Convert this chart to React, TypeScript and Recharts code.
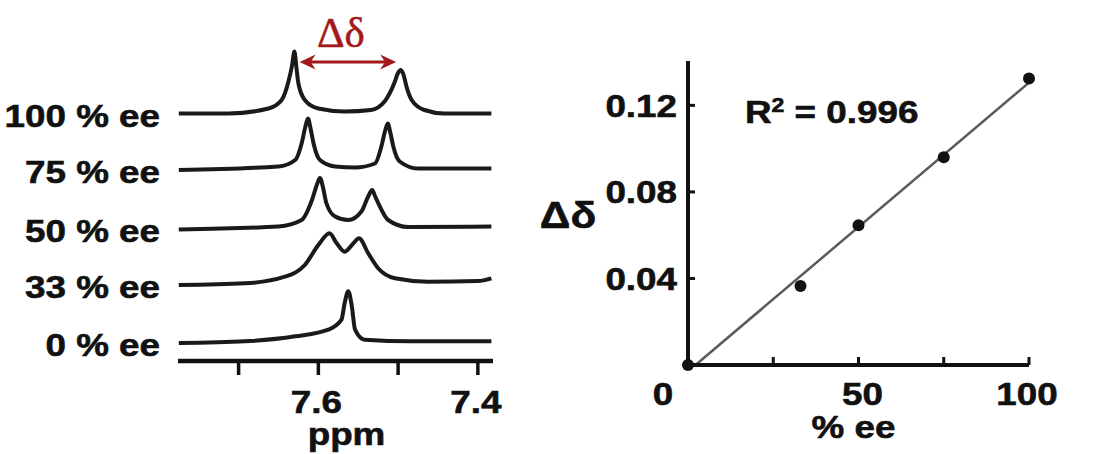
import React from 'react';
import {
    LineChart,
    Line,
    XAxis,
    YAxis,
    ComposedChart,
    Scatter,
    ReferenceLine,
    Label,
} from 'recharts';

// --- spectra: chemical shift (ppm) and signal height above each trace's baseline ---
const shift100 = [7.775, 7.7125, 7.6625, 7.646, 7.6375, 7.633, 7.63, 7.6275, 7.625, 7.617, 7.6, 7.567, 7.534, 7.517, 7.504, 7.5004, 7.4966, 7.4929, 7.49, 7.483, 7.467, 7.442, 7.383];
const signal100 = [0, 0, 5, 13.5, 32, 48, 62, 46, 30, 13.5, 5, 2, 3.5, 12, 32, 40, 43.5, 38, 28.5, 13.5, 3.5, 0, 0];

const shift75 = [7.775, 7.65, 7.629, 7.621, 7.6165, 7.613, 7.6095, 7.606, 7.598, 7.579, 7.554, 7.529, 7.521, 7.5165, 7.513, 7.5095, 7.506, 7.498, 7.475, 7.383];
const signal75 = [-0.5, 3, 9.5, 26, 42, 51, 40, 26, 9.5, 3, 2, 6, 23, 38, 46, 36, 23, 8, 1, 1];

const shift50 = [7.775, 7.65, 7.621, 7.608, 7.6015, 7.598, 7.594, 7.59, 7.579, 7.5625, 7.546, 7.5375, 7.5325, 7.529, 7.525, 7.5125, 7.4875, 7.383];
const signal50 = [-1.5, 1.5, 8, 28, 44, 50, 40, 25, 11.5, 8, 16.5, 31.5, 38, 32, 25, 8, 1, 1.5];

const shift33 = [7.775, 7.692, 7.642, 7.617, 7.6, 7.586, 7.577, 7.567, 7.556, 7.549, 7.5375, 7.525, 7.504, 7.4625, 7.4, 7.383];
const signal33 = [-1, 0.7, 7.3, 19, 39, 50.7, 40.7, 32.3, 40.7, 45.7, 30.7, 15.7, 5.7, 2.3, 3, 5.7];

const shift0 = [7.775, 7.692, 7.629, 7.5875, 7.571, 7.567, 7.5625, 7.558, 7.554, 7.542, 7.483, 7.383];
const signal0 = [-1, 0.7, 5.7, 12.3, 22.3, 39, 50.7, 35.7, 12.3, 2.3, 0.7, 0.7];

const traceLabels = ['100 % ee', '75 % ee', '50 % ee', '33 % ee', '0 % ee'];
const traceOffsets = [247.5, 191.5, 133, 77, 19];
const ppmTicks = [7.7, 7.6, 7.5, 7.4];
const ppmLabelled = [7.6, 7.4];
// peak-to-peak split of the 100 % ee trace
const splitMarks = [7.6235, 7.5025];

// --- calibration: shift difference vs enantiomeric excess ---
const eeValues = [0, 33, 50, 75, 100];
const deltaValues = [0, 0.0365, 0.0646, 0.096, 0.1324];
const fitEe = [2.2, 100];
const fitDelta = [0, 0.1305];
const deltaTicks = [0, 0.04, 0.08, 0.12];
const eeTicks = [0, 25, 50, 75, 100];
const eeLabelled = [0, 50, 100];

const FONT = '"Liberation Sans", Arial, Helvetica, sans-serif';
const INK = '#111';
const STRETCH = 1.15;

const spectra = [
    [shift100, signal100],
    [shift75, signal75],
    [shift50, signal50],
    [shift33, signal33],
    [shift0, signal0],
].map(([shift, signal], k) =>
    shift.map((p, i) => ({ ppm: p, y: traceOffsets[k] + signal[i] }))
);

const points = eeValues.map((ee, i) => ({ ee, d: deltaValues[i] }));
const fitLine = fitEe.map((ee, i) => ({ ee, d: fitDelta[i] }));

// bold text slightly widened around its anchor point
const WideText = ({ x, y, anchor = 'middle', size = 32, children, fill = INK }: any) => (
    <text
        transform={`translate(${x},${y}) scale(${STRETCH},1)`}
        textAnchor={anchor}
        fontFamily={FONT}
        fontWeight="bold"
        fontSize={size}
        fill={fill}
        stroke={fill}
        strokeWidth={0.6}
    >
        {children}
    </text>
);

const TraceTick = ({ x, y, payload }: any) => {
    const idx = traceOffsets.indexOf(payload.value);
    return <WideText x={x} y={y + 2.5 + 11.4} anchor="end">{traceLabels[idx] ?? ''}</WideText>;
};

const PpmTick = ({ x, y, payload }: any) =>
    ppmLabelled.includes(payload.value) ? (
        <WideText x={x - 2} y={y + 22.7}>{payload.value.toFixed(1)}</WideText>
    ) : null;

const SplitArrow = ({ x1, y1, x2 }: any) => {
    const red = '#a3191b';
    const cx = (x1 + x2) / 2;
    return (
        <g>
            <line x1={x1 + 8} y1={y1} x2={x2 - 8} y2={y1} stroke={red} strokeWidth={3.2} />
            <polygon points={`${x1},${y1} ${x1 + 16},${y1 - 7.5} ${x1 + 11},${y1} ${x1 + 16},${y1 + 7.5}`} fill={red} />
            <polygon points={`${x2},${y1} ${x2 - 16},${y1 - 7.5} ${x2 - 11},${y1} ${x2 - 16},${y1 + 7.5}`} fill={red} />
            <text
                x={cx - 7}
                y={y1 - 15}
                textAnchor="middle"
                fontFamily='"Liberation Serif", "Times New Roman", serif'
                fontSize={43}
                fill={red}
                stroke={red}
                strokeWidth={0.5}
            >
                Δδ
            </text>
        </g>
    );
};

const DeltaTick = ({ x, y, payload }: any) =>
    payload.value === 0 ? null : (
        <WideText x={x} y={y + 11.4} anchor="end">{payload.value.toFixed(2)}</WideText>
    );

const EeTick = ({ x, y, payload }: any) => {
    if (!eeLabelled.includes(payload.value)) return null;
    const shift = payload.value === 0 ? -25 : payload.value === 50 ? 4 : -2;
    return <WideText x={x + shift} y={y + 22.7}>{payload.value}</WideText>;
};

const Dot = ({ cx, cy }: any) => <circle cx={cx} cy={cy} r={6} fill={INK} />;

const SpectraPanel = () => (
    <LineChart width={520} height={454} margin={{ top: 41, right: 27, bottom: 33, left: 0 }}>
        <XAxis
            type="number"
            dataKey="ppm"
            domain={[7.381, 7.776]}
            reversed
            allowDataOverflow
            ticks={ppmTicks}
            interval={0}
            height={60}
            axisLine={{ stroke: INK, strokeWidth: 4.5 }}
            tickLine={{ stroke: INK, strokeWidth: 3.5 }}
            tickSize={14}
            tickMargin={15}
            tick={<PpmTick />}
        >
            <Label
                content={({ viewBox }: any) => (
                    <WideText x={viewBox.x + viewBox.width / 2 + 11} y={viewBox.y + 84}>ppm</WideText>
                )}
            />
        </XAxis>
        <YAxis
            type="number"
            domain={[0, 320]}
            ticks={traceOffsets}
            interval={0}
            width={178}
            axisLine={false}
            tickLine={false}
            tickSize={0}
            tickMargin={18}
            tick={<TraceTick />}
        />
        {spectra.map((rows, k) => (
            <Line
                key={traceLabels[k]}
                data={rows}
                dataKey="y"
                type="monotone"
                stroke="#1a1a1a"
                strokeWidth={4}
                dot={false}
                isAnimationActive={false}
            />
        ))}
        <ReferenceLine
            segment={[
                { x: splitMarks[0], y: 299 },
                { x: splitMarks[1], y: 299 },
            ]}
            shape={<SplitArrow />}
        />
    </LineChart>
);

const CalibrationPanel = () => (
    <ComposedChart width={553} height={454} margin={{ top: 61, right: 64, bottom: 0, left: 0 }}>
        <XAxis
            type="number"
            dataKey="ee"
            domain={[0, 100]}
            ticks={eeTicks}
            interval={0}
            height={89}
            axisLine={{ stroke: INK, strokeWidth: 4 }}
            tickLine={{ stroke: INK, strokeWidth: 3 }}
            tickSize={-8}
            tickMargin={25}
            tick={<EeTick />}
        >
            <Label
                content={({ viewBox }: any) => (
                    <WideText x={viewBox.x + viewBox.width / 2 - 5} y={viewBox.y + 73}>% ee</WideText>
                )}
            />
        </XAxis>
        <YAxis
            type="number"
            dataKey="d"
            domain={[0, 0.1405]}
            ticks={deltaTicks}
            interval={0}
            width={148}
            axisLine={{ stroke: INK, strokeWidth: 4 }}
            tickLine={{ stroke: INK, strokeWidth: 3 }}
            tickSize={-7}
            tickMargin={18}
            tick={<DeltaTick />}
        >
            <Label
                content={({ viewBox }: any) => (
                    <WideText x={viewBox.x + 28} y={viewBox.y + 167} size={37}>Δδ</WideText>
                )}
            />
            <Label
                content={({ viewBox }: any) => (
                    <WideText x={viewBox.x + 205} y={viewBox.y + 62} anchor="start">
                        R<tspan dy={-11} fontSize={20}>2</tspan>
                        <tspan dy={11}> = 0.996</tspan>
                    </WideText>
                )}
            />
        </YAxis>
        <Line
            data={fitLine}
            dataKey="d"
            type="linear"
            stroke="#5a5a5a"
            strokeWidth={2.5}
            dot={false}
            isAnimationActive={false}
        />
        <Scatter data={points} dataKey="d" shape={<Dot />} isAnimationActive={false} />
    </ComposedChart>
);

export default function App() {
    return (
        <div style={{ position: 'absolute', left: 0, top: 0, width: 1093, height: 454, background: '#fff', overflow: 'hidden' }}>
            <div style={{ position: 'absolute', left: 0, top: 0 }}>
                <SpectraPanel />
            </div>
            <div style={{ position: 'absolute', left: 540, top: 0 }}>
                <CalibrationPanel />
            </div>
        </div>
    );
}
